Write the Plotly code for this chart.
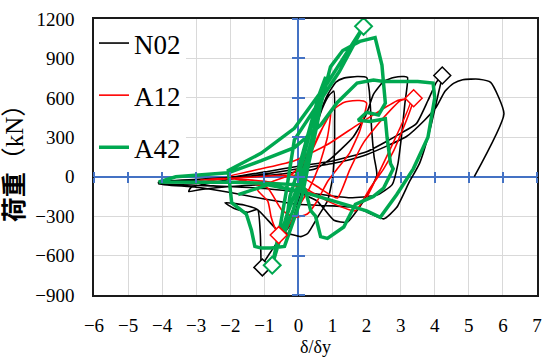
import plotly.graph_objects as go

# ---- data ----
N02_x = [0, 0.2, 0.45, 0.7, 0.9, 1.04, 1.06, 1.05, 1.0, 0.85, 0.56, 0.27, 0.07, -0.2, -0.61, -0.9, -1.2, -1.6, -2.16,
         -1.9, -1.5, -1.2, -1.12, -1.1, -1.09, -0.9, -0.51, -0.22, 0.1, 0.3, 0.5, 0.85, 1.1, 1.33, 1.72, 2.0, 2.08,
         2.15, 2.22, 2.3, 1.91, 1.43, 1.04, 0.55, 0.0, -0.9, -2.0, -2.8, -3.22, -3.15, -2.5, -1.8, -0.5, 0.5, 0.93,
         1.6, 2.0, 2.2, 2.5, 2.8, 3.1, 3.2, 3.12, 3.02, 2.92, 2.75, 2.3, 1.5, 0.5, -1.0, -2.5, -4.1,
         -4.1, -3.0, -2.0, -0.9, 0, 1.0, 2.0, 2.5, 3.0, 3.46, 3.8, 4.05, 4.22, 4.12, 3.85, 3.55, 3.26, 2.88, 2.5,
         2.1, 1.72, 1.0, -0.03, -1.0, -2.0, -3.0, -4.1, -4.05, -3.0, -2.0, -1.0, 0, 1.0, 1.91, 3.17, 3.7, 4.04, 4.3,
         4.55, 4.82, 5.3, 5.64, 6.03, 5.16]
N02_y = [0, 130, 330, 520, 620, 651, 400, 150, -13, -185, -309, -432, -456, -440, -407, -330, -250, -215, -198,
         -240, -270, -250, -432, -628, -678, -605, -456, -358, -100, 150, 400, 620, 720, 750, 762, 755, 650,
         350, 150, 11, -185, -346, -331, -185, -120, -62, -75, -95, -112, -80, -45, -10, 20, 60, 133,
         300, 480, 627, 725, 755, 762, 755, 550, 300, 100, -60, -140, -160, -130, -90, -70, -50,
         -40, -20, -5, 40, 80, 120, 190, 257, 330, 404, 580, 720, 770, 650, 350, 100, -36, -235, -321,
         -280, -235, -222, -210, -170, -120, -80, -55, -45, -25, -10, 20, 60, 100, 159, 306, 430, 528, 650,
         710, 738, 742, 718, 479, 0]

A12_x = [0, 0.3, 0.6, 0.85, 0.95, 0.85, 0.6, 0.3, 0.0, -0.3, -0.56, -0.7, -0.8, -0.9, -1.2, -0.8, -0.2, 0.3, 0.94,
         1.33, 1.72, 1.91, 2.0, 1.8, 1.5, 1.14, 0.85, 0.55, 0.26, -0.12, -0.5, -0.9, -1.5, -2.06, -1.09, -0.12, 0.85,
         1.72, 2.5, 2.88, 3.17, 3.38, 3.2, 2.8, 2.5, 2.1, 1.67, 0.85, 0.17, -0.9, -2.06, -2.93, -2.85, -1.5, 0, 0.7,
         1.14, 1.5, 1.91, 2.5, 3.0, 3.3, 2.0]
A12_y = [0, 150, 320, 440, 490, 300, 80, -100, -230, -380, -444, -383, -309, -185, -100, -40, 20, 150, 491,
         565, 580, 577, 560, 350, 180, 60, -38, -185, -284, -309, -250, -87, -40, 0, 60, 122, 245,
         393, 520, 577, 592, 597, 450, 200, 60, -87, -259, -185, -87, -38, -15, -38, -25, -5, 10, -100,
         -162, 50, 259, 450, 580, 590, -162]

A42_x = [0, 0.2, 0.45, 0.6, 0.4, 0.15, -0.15, -0.4, -0.25, 0, 0.3, 0.6, 0.8, 0.55, 0.3, 0.1, -0.1, -0.41, -0.8,
         -1.09, -1.28, -1.38, -1.53, -1.96, -2.0, -2.06, -1.09, -0.12, 0.85, 1.43, 1.72, 1.91, 1.2, 0.5, -0.12,
         -0.35, -0.55, -0.77, -0.35, 0.17, 0.6, 0.94, 1.3, 1.8, 2.25, 2.45, 2.5, 2.55, 2.35, 2.0, 1.75, 2.1, 2.55,
         2.6, 2.7, 2.78, 2.5, 2.2, 1.67, 1.33, 0.85, 0.65, 0.5, 0.36, 0.2, 0.1, -1.0, -2.06, -3.0, -4.1, -3.6,
         -2.06, -1.09, -0.12, 0.65, 1.14, 1.72, 2.2, 2.5, 3.0, 3.5, 3.95, 4.0, 3.8, 3.37, 2.88, 2.4, 2.0, 1.04,
         0.07, -0.9, -1.77]
A42_y = [0, 200, 450, 560, 250, 0, -250, -420, -150, 60, 350, 620, 760, 400, 100, -150, -300, -530, -543,
         -543, -530, -407, -284, -198, -100, 48, 180, 368, 713, 947, 1058, 1144, 800, 520, 281,
         -100, -400, -673, -300, 60, 500, 836, 960, 1030, 1058, 850, 700, 560, 470, 490, 430, 420, 440,
         300, 100, 60, -87, -150, -210, -383, -469, -456, -300, -259, -100, -62, -50, -40, -42, -40, 0,
         30, 122, 221, 393, 565, 713, 735, 725, 725, 725, 713, 600, 300, 60, -137, -309, -260, -185,
         -112, -62, -136]

peak_N02_x, peak_N02_y = [4.22, -1.06], [770, -690]
peak_A12_x, peak_A12_y = [3.38, -0.58], [597, -444]
peak_A42_x, peak_A42_y = [1.91, -0.77], [1144, -673]

x_ticks = list(range(-6, 8))
y_ticks = list(range(-900, 1201, 300))

series = [
    ("N02", N02_x, N02_y, peak_N02_x, peak_N02_y, "#000000", 1.6, "spline"),
    ("A12", A12_x, A12_y, peak_A12_x, peak_A12_y, "#FF0000", 1.6, "spline"),
    ("A42", A42_x, A42_y, peak_A42_x, peak_A42_y, "#00A850", 3.5, "linear"),
]

fig = go.Figure()
for name, xs, ys, px, py, col, w, shp in series:
    line = dict(color=col, width=w, shape=shp)
    if shp == "spline":
        line["smoothing"] = 0.5
    fig.add_trace(go.Scatter(x=xs, y=ys, mode="lines", name=name, legendgroup=name, line=line))
for name, xs, ys, px, py, col, w, shp in series:
    fig.add_trace(go.Scatter(x=px, y=py, mode="markers", showlegend=False, legendgroup=name,
                             marker=dict(symbol="diamond", size=13, color="white",
                                         line=dict(color=col, width=1.5 if w < 2 else 2))))

# dummy traces for the zero-line tick axes
for ax in ["2", "3"]:
    fig.add_trace(go.Scatter(x=[None], y=[None], xaxis="x" + ax, yaxis="y" + ax, showlegend=False))

serif = "Liberation Serif, Times New Roman, serif"
xr = [x_ticks[0], x_ticks[-1]]
yr = [y_ticks[0], y_ticks[-1]]
y0frac = (0 - yr[0]) / (yr[1] - yr[0])
x0frac = (0 - xr[0]) / (xr[1] - xr[0])

fig.update_layout(
    width=551, height=363,
    margin=dict(l=94, r=9, t=16, b=63),
    paper_bgcolor="white", plot_bgcolor="white",
    showlegend=True,
    legend=dict(x=0.0, y=1.0, xanchor="left", yanchor="top", bgcolor="white",
                font=dict(family=serif, size=27, color="black"),
                traceorder="grouped", tracegroupgap=14, itemwidth=30),
    xaxis=dict(range=xr, tickvals=x_ticks, showgrid=True, gridcolor="#D9D9D9", gridwidth=1,
               zeroline=True, zerolinecolor="#4472C4", zerolinewidth=1.5,
               showline=True, linecolor="#1a1a1a", linewidth=1.5, mirror=True,
               ticks="", ticklabelstandoff=12,
               tickfont=dict(family=serif, size=19, color="black"),
               title=dict(text="δ/δy", font=dict(family=serif, size=18, color="black"), standoff=6)),
    yaxis=dict(range=yr, tickvals=y_ticks, showgrid=True, gridcolor="#D9D9D9", gridwidth=1,
               zeroline=True, zerolinecolor="#4472C4", zerolinewidth=1.5,
               showline=True, linecolor="#1a1a1a", linewidth=1.5, mirror=True,
               ticks="", ticklabelstandoff=14,
               tickfont=dict(family=serif, size=19, color="black"),
               title=dict(text="<b>荷重</b>（kN）", font=dict(family="Liberation Serif, Noto Sans CJK JP", size=25, color="black"), standoff=4)),
    xaxis2=dict(overlaying="x", anchor="free", position=y0frac, range=xr, tickvals=x_ticks,
                showticklabels=False, showgrid=False, zeroline=False, showline=False,
                ticks="outside", ticklen=5, tickcolor="#4472C4", tickwidth=1.5),
    yaxis2=dict(overlaying="y", anchor="free", position=x0frac, range=yr, tickvals=y_ticks,
                showticklabels=False, showgrid=False, zeroline=False, showline=False,
                ticks="outside", ticklen=6, tickcolor="#4472C4", tickwidth=1.5),
    xaxis3=dict(overlaying="x", anchor="free", position=y0frac, range=xr, tickvals=x_ticks, side="top",
                showticklabels=False, showgrid=False, zeroline=False, showline=False,
                ticks="outside", ticklen=5, tickcolor="#4472C4", tickwidth=1.5),
    yaxis3=dict(overlaying="y", anchor="free", position=x0frac, range=yr, tickvals=y_ticks, side="right",
                showticklabels=False, showgrid=False, zeroline=False, showline=False,
                ticks="outside", ticklen=6, tickcolor="#4472C4", tickwidth=1.5),
)

fig.write_html("out.html")
